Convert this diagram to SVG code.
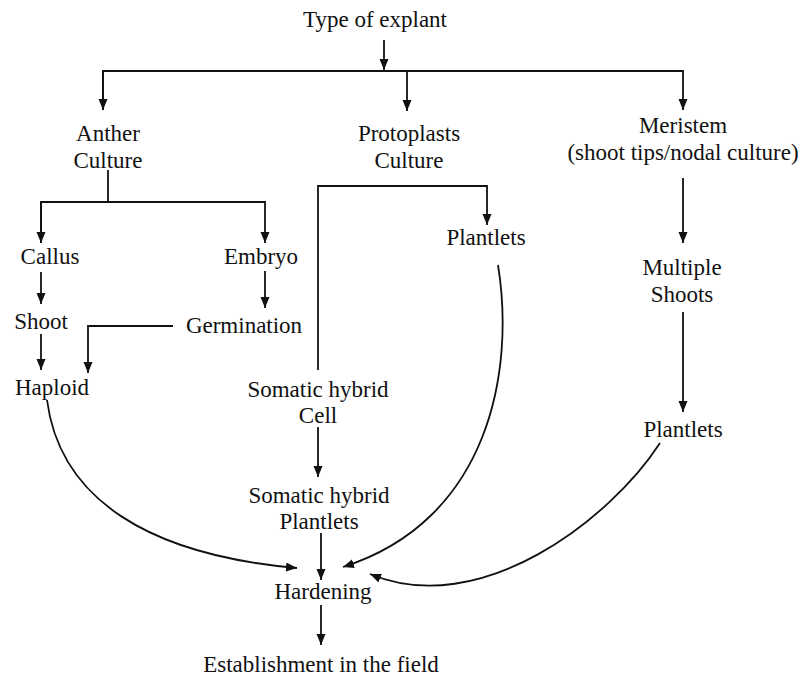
<svg xmlns="http://www.w3.org/2000/svg" width="803" height="679" viewBox="0 0 803 679">
<style>
text{font-family:"Liberation Serif","Times New Roman",serif;font-size:23px;fill:#111;text-anchor:middle}
.c path{fill:none;stroke:#111;stroke-width:1.8}
</style>
<defs>
<marker id="ah" markerUnits="userSpaceOnUse" markerWidth="12" markerHeight="10" refX="11" refY="4.5" orient="auto">
<path d="M0,0 L11,4.5 L0,9 z" fill="#111"/>
</marker>
</defs>
<rect width="803" height="679" fill="#fff"/>
<g class="c" id="connectors">
<path d="M384,40 V70" marker-end="url(#ah)"/>
<path d="M103,110 V71 H683 V110" marker-end="url(#ah)"/>
<path d="M103,71 V110" marker-end="url(#ah)"/>
<path d="M407,71 V111" marker-end="url(#ah)"/>
<path d="M108,170 V202"/>
<path d="M41,243 V202 H265 V243" marker-end="url(#ah)"/>
<path d="M41,202 V243" marker-end="url(#ah)"/>
<path d="M41,272 V304" marker-end="url(#ah)"/>
<path d="M265,271 V308" marker-end="url(#ah)"/>
<path d="M173,326 H88 V373" marker-end="url(#ah)"/>
<path d="M41,334 V370" marker-end="url(#ah)"/>
<path d="M318,370 V186 H487 V225" marker-end="url(#ah)"/>
<path d="M318,427 V477" marker-end="url(#ah)"/>
<path d="M321,533 V580" marker-end="url(#ah)"/>
<path d="M321,605 V645" marker-end="url(#ah)"/>
<path d="M683,178 V243" marker-end="url(#ah)"/>
<path d="M683,312 V412" marker-end="url(#ah)"/>
<path d="M47,400 C60,500 150,555 297,568" marker-end="url(#ah)"/>
<path d="M498,265 C515,370 490,520 343,567" marker-end="url(#ah)"/>
<path d="M660,443 C610,520 480,620 370,574" marker-end="url(#ah)"/>
</g>
<g id="n-type"><text x="375" y="27">Type of explant</text></g>
<g id="n-anther"><text x="108" y="141">Anther</text><text x="108" y="168">Culture</text></g>
<g id="n-proto"><text x="409" y="141">Protoplasts</text><text x="409" y="168">Culture</text></g>
<g id="n-meristem"><text x="683" y="133">Meristem</text><text x="683" y="160">(shoot tips/nodal culture)</text></g>
<g id="n-callus"><text x="50" y="264">Callus</text></g>
<g id="n-embryo"><text x="261" y="264">Embryo</text></g>
<g id="n-shoot"><text x="41" y="329">Shoot</text></g>
<g id="n-germination"><text x="244" y="333">Germination</text></g>
<g id="n-haploid"><text x="52" y="395">Haploid</text></g>
<g id="n-plantlets1"><text x="486" y="245">Plantlets</text></g>
<g id="n-shcell"><text x="318" y="397">Somatic hybrid</text><text x="318" y="423">Cell</text></g>
<g id="n-shplant"><text x="319" y="503">Somatic hybrid</text><text x="319" y="529">Plantlets</text></g>
<g id="n-hardening"><text x="323" y="599">Hardening</text></g>
<g id="n-establish"><text x="321" y="672">Establishment in the field</text></g>
<g id="n-multiple"><text x="682" y="275">Multiple</text><text x="682" y="302">Shoots</text></g>
<g id="n-plantlets2"><text x="683" y="437">Plantlets</text></g>
</svg>
